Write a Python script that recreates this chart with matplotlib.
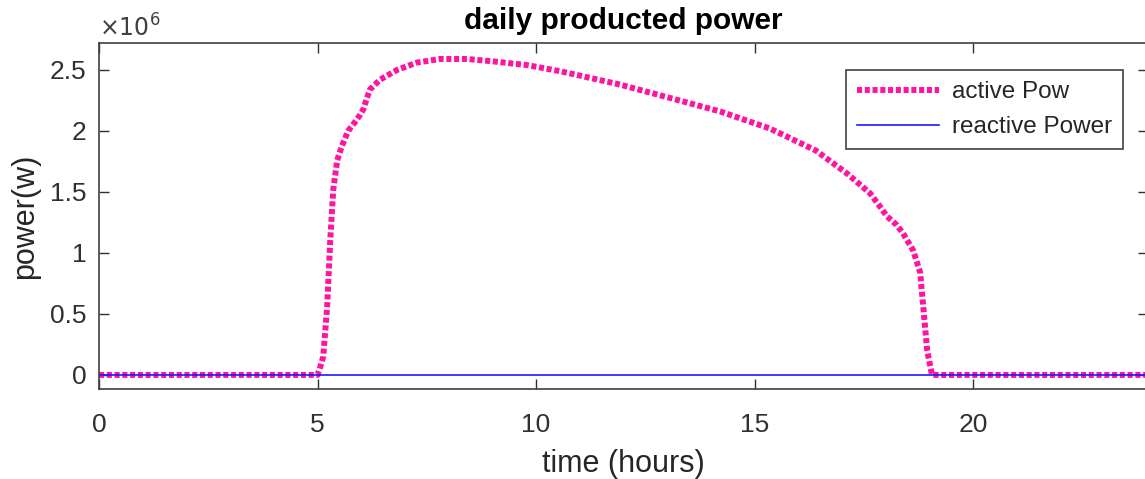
import matplotlib
matplotlib.use("Agg")
import matplotlib.pyplot as plt
from matplotlib.ticker import FuncFormatter

plt.rcParams['font.family'] = ['Liberation Sans', 'DejaVu Sans']

# daily production (hours, watts)
hours = [0, 5.0, 5.05, 5.13, 5.22, 5.29, 5.36, 5.45, 5.55, 5.70, 5.85, 5.97,
         6.05, 6.12, 6.20, 6.43, 6.82, 7.27, 7.80, 8.42, 9.02, 9.79, 10.55,
         11.92, 13.07, 14.21, 15.35, 16.40, 17.12, 17.64, 17.87, 18.03, 18.25,
         18.40, 18.63, 18.79, 18.86, 18.95, 19.06, 24]
active_mw = [0, 0, 0.05, 0.15, 0.56, 1.1, 1.52, 1.76, 1.87, 2.0, 2.07, 2.13,
             2.18, 2.26, 2.34, 2.42, 2.5, 2.56, 2.59, 2.59, 2.57, 2.54, 2.49,
             2.38, 2.27, 2.16, 2.02, 1.84, 1.65, 1.49, 1.38, 1.30, 1.23,
             1.16, 1.02, 0.84, 0.56, 0.2, 0, 0]
active_w = [v * 1e6 for v in active_mw]
reactive_hours = [0, 24]
reactive_w = [0, 0]
xticks = [0, 5, 10, 15, 20]
yticks = [0, 0.5e6, 1e6, 1.5e6, 2e6, 2.5e6]

fig = plt.figure(figsize=(11.45, 4.79), dpi=100)
ax = fig.add_axes([0.0865, 0.188, 0.916, 0.722])

act, = ax.plot(hours, active_w, color='#ff14a0', lw=4.3, dashes=(0.85, 0.45),
               dash_capstyle='butt', label='active Pow')
rea, = ax.plot(reactive_hours, reactive_w, color='#1a1aff', lw=1.2,
               label='reactive Power')

ax.set_xlim(0, 24)
ax.set_ylim(-0.115e6, 2.72e6)
ax.set_xticks(xticks)
ax.set_yticks(yticks)
ax.yaxis.set_major_formatter(FuncFormatter(lambda v, p: '%g' % (v / 1e6)))

ax.tick_params(direction='in', length=7.5, width=1, colors='#303030',
               labelsize=19, top=True, right=True, pad=9)
ax.tick_params(axis='x', pad=17)
for s in ax.spines.values():
    s.set_color('#404040')
    s.set_linewidth(1.2)

ax.text(0.0, 1.004, r'$\times10^{6}$', transform=ax.transAxes, fontsize=17,
        color='#404040', ha='left', va='bottom')

ax.set_xlabel('time (hours)', fontsize=22, color='#262626', labelpad=9)
ax.set_ylabel('power(w)', fontsize=22, color='#262626', labelpad=7)
ax.set_title('daily producted power', fontsize=21.5, fontweight='bold',
             color='black', pad=10)

leg = ax.legend(handles=[act, rea], loc='upper right',
                bbox_to_anchor=(0.976, 0.922), borderaxespad=0,
                fontsize=17.5, handlelength=3.4, handletextpad=0.5,
                labelspacing=0.55, borderpad=0.45, fancybox=False,
                edgecolor='#404040', framealpha=1)
leg.get_frame().set_linewidth(1.2)
for t in leg.get_texts():
    t.set_color('#262626')

plt.savefig('out.png', dpi=100)
